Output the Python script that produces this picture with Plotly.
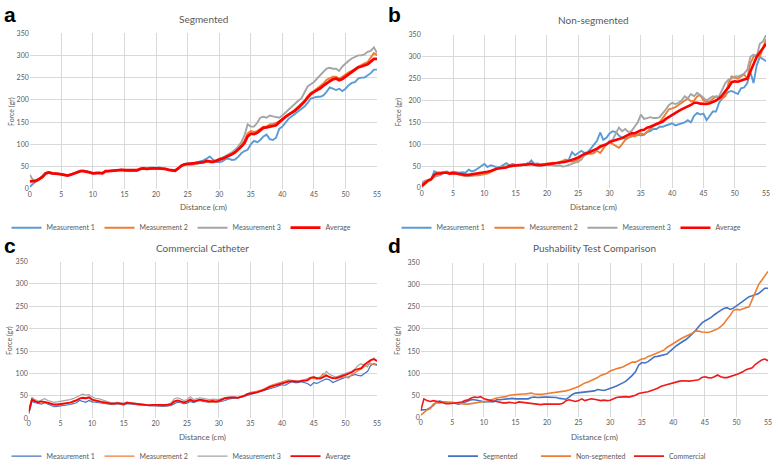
import plotly.graph_objects as go

# ---------------- data (Force in gr, sampled every 0.5 cm) ----------------
distance = [i * 0.5 for i in range(111)]
x_ticks = [0, 5, 10, 15, 20, 25, 30, 35, 40, 45, 50, 55]
y_ticks = [0, 50, 100, 150, 200, 250, 300, 350]

seg_m1 = [5,12,18,22,28,36,38,36,35,34, 33,32,30,32,35,38,41,41,40,37,
          34,35,36,35,40,41,41,42,42,43, 42,41,41,41,42,45,47,46,48,48,
          47,48,46,45,43,41,40,45,52,56, 58,57,58,60,62,64,68,73,66,61,
          60,62,67,68,65,66,72,80,85,88, 100,108,105,110,118,122,112,110,115,135,
          140,150,158,163,168,173,180,185,193,203, 205,207,207,210,218,228,225,222,225,220,
          225,233,238,240,248,250,250,255,260,268, 268]
seg_m2 = [18,18,20,24,28,35,36,35,35,34, 33,32,31,32,35,37,40,40,39,37,
          35,36,36,35,39,40,41,41,42,43, 42,42,41,41,42,45,46,45,45,46,
          46,45,46,45,43,42,41,46,52,55, 56,55,56,57,58,60,61,60,60,63,
          68,70,72,75,80,84,90,98,108,125, 130,128,130,135,140,140,145,146,148,152,
          158,163,168,172,178,184,190,198,208,216, 220,225,230,237,245,248,252,252,248,252,
          258,262,265,270,275,278,282,285,295,305, 300]
seg_m3 = [32,20,20,22,26,33,37,35,35,34, 34,33,31,33,35,37,40,41,40,37,
          35,37,37,36,40,40,41,41,42,43, 43,42,41,40,42,45,45,44,45,46,
          45,45,45,44,43,42,41,45,52,55, 56,55,55,57,58,59,62,60,60,64,
          66,70,74,78,82,88,95,105,120,145, 140,140,148,160,162,160,165,163,162,160,
          165,172,178,185,192,198,203,215,230,235, 240,248,255,262,270,272,270,270,265,275,
          282,288,293,297,300,300,302,308,310,318, 305]
seg_avg = [17,17,18,22,27,35,37,35,35,34, 33,32,30,32,35,37,40,40,39,37,
           35,36,36,35,40,40,41,41,42,43, 42,42,41,41,42,45,46,45,46,46,
           46,46,46,45,43,42,41,46,52,55, 56,56,57,58,59,60,63,62,61,63,
           65,68,71,74,78,82,88,95,103,118, 124,123,126,132,137,138,140,141,143,150,
           157,162,167,171,176,182,188,196,205,213, 218,222,226,232,238,242,246,248,244,247,
           252,257,262,268,273,275,277,280,286,292, 292]

non_m1 = [10,15,18,20,38,35,35,36,36,35, 37,36,35,36,35,42,38,40,45,48,
          55,48,52,50,47,48,52,57,52,55, 53,51,52,55,55,63,55,56,54,55,
          53,54,55,56,58,60,62,65,82,75, 80,85,80,82,90,100,108,127,110,115,
          125,130,128,120,115,113,115,118,120,122, 120,122,128,130,135,135,140,140,143,145,
          148,143,145,148,150,155,150,165,172,168, 170,155,165,175,175,195,205,212,220,222,
          218,215,228,230,240,265,240,280,300,295, 290]
non_m2 = [2,8,15,18,30,35,35,36,37,32, 34,32,30,28,27,28,28,28,29,30,
          31,33,36,40,44,45,46,48,52,50, 51,52,53,54,54,55,53,52,53,55,
          56,57,58,57,59,62,65,62,60,62, 65,72,75,78,78,80,85,80,90,100,
          105,100,95,92,100,110,115,120,118,122, 125,122,128,135,140,148,150,160,170,180,
          182,185,190,195,200,205,198,200,210,212, 200,197,198,205,210,208,205,210,240,255,
          252,250,255,260,250,285,300,305,300,320, 340]
non_m3 = [12,17,18,20,25,28,30,35,38,33, 35,33,32,30,28,27,28,30,32,33,
          35,36,38,42,45,47,48,50,48,50, 50,50,52,53,58,55,52,50,51,52,
          52,53,52,50,52,49,50,52,55,58, 60,65,75,80,82,85,88,92,95,100,
          108,110,125,138,130,135,128,130,140,150, 168,158,160,162,160,160,162,170,180,190,
          195,192,195,200,210,205,215,210,218,212, 205,200,205,210,208,210,225,240,248,250,
          255,255,258,262,270,300,305,300,330,335, 350]
non_avg = [5,12,17,20,30,33,33,35,35,33, 34,33,32,30,30,30,31,32,33,35,
           36,37,39,42,44,45,46,47,50,51, 51,52,53,53,54,55,53,52,52,53,
           54,55,55,56,57,58,60,62,64,67, 70,74,78,80,83,86,90,95,98,100,
           105,108,110,112,114,118,122,125,125,128, 132,133,138,140,143,146,148,152,158,163,
           168,172,176,180,183,186,190,195,195,193, 192,192,194,197,200,205,212,222,230,242,
           244,243,246,248,250,268,285,300,310,320, 330]

com_m1 = [10,38,35,33,32,35,32,30,26,27, 28,28,29,31,33,35,40,38,36,40,
          37,36,35,34,33,32,31,32,33,31, 30,33,32,31,31,30,30,29,28,28,
          28,27,27,27,28,29,33,36,35,33, 34,38,35,37,40,38,37,36,37,36,
          37,38,40,43,45,46,45,47,49,52, 54,56,57,59,61,63,66,68,70,73,
          75,74,78,82,80,80,82,80,78,73, 80,78,82,85,88,86,80,83,86,90,
          92,93,95,98,96,95,100,105,118,122, 120]
com_m2 = [20,47,40,37,38,36,34,32,30,30, 31,32,33,35,37,40,44,45,44,46,
          41,39,38,36,35,33,32,32,34,32, 31,36,34,32,31,30,30,29,29,29,
          29,28,29,28,29,31,37,39,37,35, 37,41,37,39,41,40,38,36,37,36,
          38,42,45,47,48,47,46,48,51,55, 58,59,60,62,65,69,72,75,77,79,
          81,84,86,85,84,83,85,86,88,92, 90,87,92,100,95,92,90,88,90,92,
          92,90,98,102,105,110,115,120,122,120, 118]
com_m3 = [12,44,42,38,41,44,40,38,36,37, 38,39,40,42,44,47,51,54,52,53,
          48,45,44,42,40,37,35,35,36,35, 34,36,35,34,33,32,32,31,30,31,
          31,30,31,31,32,35,44,46,43,40, 42,48,42,44,46,45,44,42,43,42,
          42,44,46,48,48,48,47,49,51,55, 57,58,59,61,64,67,70,73,75,78,
          80,82,84,84,83,82,84,86,88,90, 93,90,92,95,105,98,95,93,95,98,
          100,103,105,110,118,122,118,115,130,135, 128]
com_avg = [15,42,38,36,38,37,35,33,31,31, 32,33,34,35,38,40,44,46,45,47,
           42,40,39,37,36,34,33,33,34,33, 32,35,34,33,32,31,31,30,29,30,
           30,29,29,29,30,32,38,40,38,36, 38,42,38,40,42,41,40,38,39,38,
           39,42,45,46,47,47,46,48,50,54, 56,57,58,60,63,66,70,72,74,77,
           79,80,82,83,82,82,83,84,85,90, 92,90,89,92,96,92,90,90,92,95,
           97,100,103,108,110,112,120,125,130,132, 128]

# ---------------- styling ----------------
FONT = "Lato"
GRAY = "#595959"
GRID = "#D9D9D9"
C_BLUE_L = "#5B9BD5"
C_BLUE_D = "#4472C4"
C_ORANGE = "#ED7D31"
C_GRAY = "#A5A5A5"
C_RED = "#FF0000"

W, H = 778, 471


def px_x(p):
    return p / W


def px_y(p):
    return 1 - p / H


panels = {
    # name: (x0, x1, ytop, ybottom) in pixels
    "1": (28, 378, 29, 190),
    "2": (423, 770, 31, 189),
    "3": (27, 378, 265, 427),
    "4": (422, 772, 266, 426),
}

fig = go.Figure()


def add(series, name, color, width, panel):
    xa = "x" if panel == "1" else "x" + panel
    ya = "y" if panel == "1" else "y" + panel
    lg = "legend" if panel == "1" else "legend" + panel
    fig.add_trace(go.Scatter(x=distance, y=series, mode="lines", name=name,
                             line=dict(color=color, width=width),
                             xaxis=xa, yaxis=ya, legend=lg))


add(seg_m1, "Measurement 1", C_BLUE_L, 1.9, "1")
add(seg_m2, "Measurement 2", C_ORANGE, 1.9, "1")
add(seg_m3, "Measurement 3", C_GRAY, 1.9, "1")
add(seg_avg, "Average", C_RED, 2.8, "1")

add(non_m1, "Measurement 1", C_BLUE_L, 1.9, "2")
add(non_m2, "Measurement 2", C_ORANGE, 1.9, "2")
add(non_m3, "Measurement 3", C_GRAY, 1.9, "2")
add(non_avg, "Average", C_RED, 2.6, "2")

add(com_m1, "Measurement 1", C_BLUE_D, 1.2, "3")
add(com_m2, "Measurement 2", C_ORANGE, 1.2, "3")
add(com_m3, "Measurement 3", C_GRAY, 1.2, "3")
add(com_avg, "Average", C_RED, 1.8, "3")

add(seg_avg, "Segmented", C_BLUE_D, 1.6, "4")
add(non_avg, "Non-segmented", C_ORANGE, 1.6, "4")
add(com_avg, "Commercial", "#F01818", 1.6, "4")

layout = dict(
    width=W, height=H,
    margin=dict(l=0, r=0, t=0, b=0),
    paper_bgcolor="white", plot_bgcolor="white",
    font=dict(family=FONT, color=GRAY, size=7),
)

titles = {"1": "Segmented", "2": "Non-segmented", "3": "Commercial Catheter",
          "4": "Pushability Test Comparison"}
title_y = {"1": 14, "2": 15, "3": 251, "4": 251}
letters = {"1": ("a", 8, 10), "2": ("b", 396, 10), "3": ("c", 8, 248), "4": ("d", 396, 248)}
legend_y = {"1": 230, "2": 230, "3": 466, "4": 466}
xlabel_y = {"1": 209, "2": 209, "3": 446, "4": 446}
ylabel_x = {"1": 9, "2": 400, "3": 8, "4": 399}
legend_cx = {"1": 192, "2": 585, "3": 192, "4": 585}
legend_entry = {"1": 48, "2": 48, "3": 48, "4": 48}

annotations = []
for key, (x0, x1, yt, yb) in panels.items():
    xname = "xaxis" if key == "1" else "xaxis" + key
    yname = "yaxis" if key == "1" else "yaxis" + key
    anchor_x = "y" if key == "1" else "y" + key
    anchor_y = "x" if key == "1" else "x" + key
    layout[xname] = dict(domain=[px_x(x0), px_x(x1)], anchor=anchor_x, range=[0, 55],
                         tickvals=x_ticks, showgrid=True, gridcolor=GRID, gridwidth=1,
                         zeroline=False, showline=False, ticks="", ticklen=0,
                         tickfont=dict(size=7, color=GRAY, family=FONT))
    layout[yname] = dict(domain=[px_y(yb), px_y(yt)], anchor=anchor_y, range=[0, 350],
                         tickvals=y_ticks, showgrid=True, gridcolor=GRID, gridwidth=1,
                         zeroline=False, showline=False, ticks="", ticklen=0,
                         tickfont=dict(size=7, color=GRAY, family=FONT))
    cx = (x0 + x1) / 2
    annotations.append(dict(text=titles[key], x=px_x(cx), y=px_y(title_y[key]),
                            xref="paper", yref="paper", showarrow=False,
                            xanchor="center", yanchor="middle",
                            font=dict(size=10, color=GRAY, family=FONT)))
    annotations.append(dict(text="Distance (cm)", x=px_x(cx), y=px_y(xlabel_y[key]),
                            xref="paper", yref="paper", showarrow=False,
                            xanchor="center", yanchor="middle",
                            font=dict(size=8, color=GRAY, family=FONT)))
    annotations.append(dict(text="Force (gr)", x=px_x(ylabel_x[key]), y=px_y((yt + yb) / 2),
                            xref="paper", yref="paper", showarrow=False, textangle=-90,
                            xanchor="center", yanchor="middle",
                            font=dict(size=7, color=GRAY, family=FONT)))
    lt, lx, ly = letters[key]
    annotations.append(dict(text="<b>" + lt + "</b>", x=px_x(lx), y=px_y(ly),
                            xref="paper", yref="paper", showarrow=False,
                            xanchor="center", yanchor="middle",
                            font=dict(size=21, color="black", family="Liberation Sans")))
    lname = "legend" if key == "1" else "legend" + key
    layout[lname] = dict(orientation="h", x=px_x(legend_cx[key]), y=px_y(legend_y[key]),
                         xanchor="center", yanchor="middle", itemwidth=30,
                         entrywidth=legend_entry[key], entrywidthmode="pixels",
                         font=dict(size=7, color=GRAY, family=FONT),
                         bgcolor="rgba(0,0,0,0)", tracegroupgap=0)

layout["annotations"] = annotations
fig.update_layout(**layout)

fig.write_html("out.html", config={"displayModeBar": False},
               post_script="document.body.style.margin='0';"
               "document.body.style.padding='0';")
